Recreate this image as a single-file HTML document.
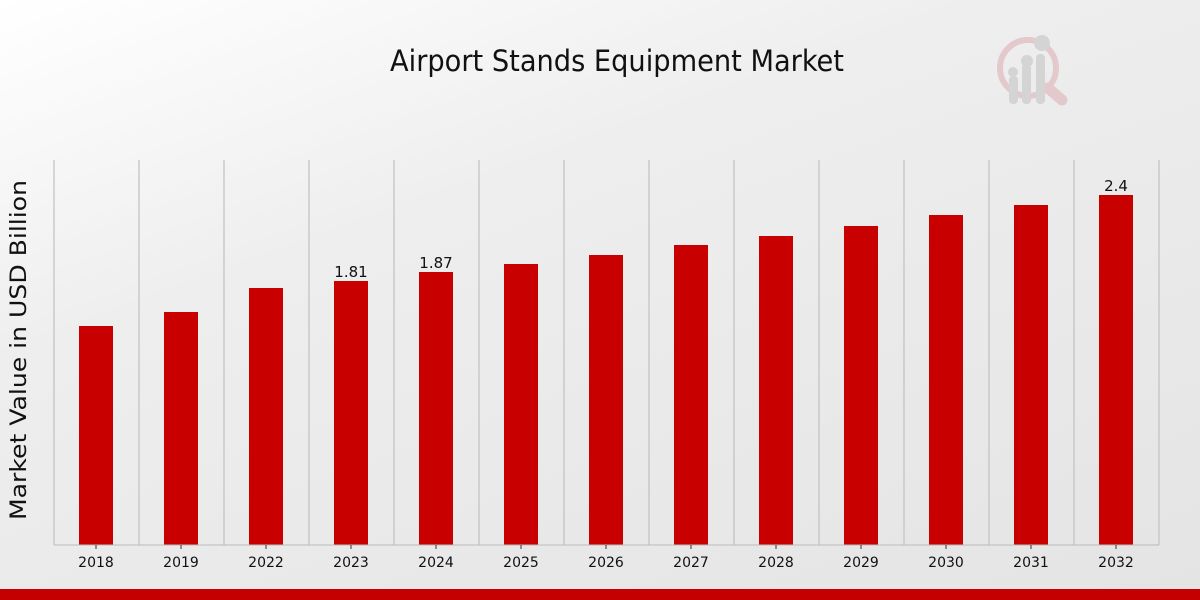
<!DOCTYPE html>
<html><head><meta charset="utf-8"><style>
html,body{margin:0;padding:0;width:1200px;height:600px;overflow:hidden}
body{background:linear-gradient(160deg,#ffffff 0%,#eeeeee 35%,#e4e4e4 100%);font-family:"DejaVu Sans","Liberation Sans",sans-serif}
</style></head><body>
<svg width="1200" height="600" viewBox="0 0 1200 600" xmlns="http://www.w3.org/2000/svg" style="position:absolute;left:0;top:0">
<text x="617" y="71" text-anchor="middle" font-family="DejaVu Sans Condensed,DejaVu Sans,sans-serif" font-size="29" fill="#111" textLength="454" lengthAdjust="spacingAndGlyphs">Airport Stands Equipment Market</text>
<g opacity="0.9">
<circle cx="1028" cy="68" r="28" fill="none" stroke="#e3c6c8" stroke-width="6"/>
<line x1="1048" y1="88" x2="1062" y2="100" stroke="#e3c6c8" stroke-width="11" stroke-linecap="round"/>
<rect x="1009" y="76" width="9" height="28" rx="4" fill="#d2d2d2"/>
<rect x="1022" y="64" width="9" height="40" rx="4" fill="#d2d2d2"/>
<rect x="1036" y="54" width="9" height="50" rx="4" fill="#d2d2d2"/>
<circle cx="1013" cy="72" r="5" fill="#d2d2d2"/><circle cx="1027" cy="61" r="6" fill="#d2d2d2"/><circle cx="1042" cy="43" r="8" fill="#d2d2d2"/>
</g>
<g stroke="#c4c4c4" stroke-width="1.3">
<line x1="54" y1="160" x2="54" y2="545"/><line x1="139" y1="160" x2="139" y2="545"/><line x1="224" y1="160" x2="224" y2="545"/><line x1="309" y1="160" x2="309" y2="545"/><line x1="394" y1="160" x2="394" y2="545"/><line x1="479" y1="160" x2="479" y2="545"/><line x1="564" y1="160" x2="564" y2="545"/><line x1="649" y1="160" x2="649" y2="545"/><line x1="734" y1="160" x2="734" y2="545"/><line x1="819" y1="160" x2="819" y2="545"/><line x1="904" y1="160" x2="904" y2="545"/><line x1="989" y1="160" x2="989" y2="545"/><line x1="1074" y1="160" x2="1074" y2="545"/><line x1="1159" y1="160" x2="1159" y2="545"/>
</g>
<g fill="#c80000">
<rect x="79" y="326" width="34" height="219"/>
<rect x="164" y="312" width="34" height="233"/>
<rect x="249" y="288" width="34" height="257"/>
<rect x="334" y="281" width="34" height="264"/>
<rect x="419" y="272" width="34" height="273"/>
<rect x="504" y="264" width="34" height="281"/>
<rect x="589" y="255" width="34" height="290"/>
<rect x="674" y="245" width="34" height="300"/>
<rect x="759" y="236" width="34" height="309"/>
<rect x="844" y="226" width="34" height="319"/>
<rect x="929" y="215" width="34" height="330"/>
<rect x="1014" y="205" width="34" height="340"/>
<rect x="1099" y="195" width="34" height="350"/>
</g>
<line x1="54" y1="545" x2="1159" y2="545" stroke="#bbb"/>
<g stroke="#333"><line x1="96" y1="545" x2="96" y2="549"/><line x1="181" y1="545" x2="181" y2="549"/><line x1="266" y1="545" x2="266" y2="549"/><line x1="351" y1="545" x2="351" y2="549"/><line x1="436" y1="545" x2="436" y2="549"/><line x1="521" y1="545" x2="521" y2="549"/><line x1="606" y1="545" x2="606" y2="549"/><line x1="691" y1="545" x2="691" y2="549"/><line x1="776" y1="545" x2="776" y2="549"/><line x1="861" y1="545" x2="861" y2="549"/><line x1="946" y1="545" x2="946" y2="549"/><line x1="1031" y1="545" x2="1031" y2="549"/><line x1="1116" y1="545" x2="1116" y2="549"/></g>
<g font-size="14" fill="#111" text-anchor="middle">
<text x="96" y="567">2018</text><text x="181" y="567">2019</text><text x="266" y="567">2022</text><text x="351" y="567">2023</text><text x="436" y="567">2024</text><text x="521" y="567">2025</text><text x="606" y="567">2026</text><text x="691" y="567">2027</text><text x="776" y="567">2028</text><text x="861" y="567">2029</text><text x="946" y="567">2030</text><text x="1031" y="567">2031</text><text x="1116" y="567">2032</text>
<text x="351" y="277" font-size="15">1.81</text><text x="436" y="268" font-size="15">1.87</text><text x="1116" y="191" font-size="15">2.4</text>
</g>
<text transform="translate(26,350) rotate(-90)" text-anchor="middle" font-size="22" fill="#111" textLength="340" lengthAdjust="spacingAndGlyphs">Market Value in USD Billion</text>
<rect x="0" y="589" width="1200" height="11" fill="#c40000"/>
</svg>
</body></html>
